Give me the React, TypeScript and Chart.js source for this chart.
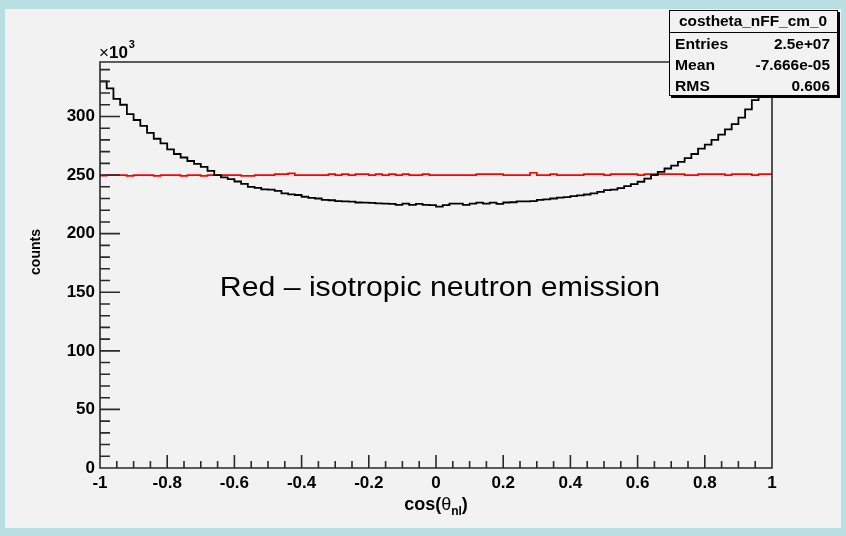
import React, { useEffect, useRef } from "react";
import { Chart, registerables } from "chart.js";

Chart.register(...registerables);

// ---- data (counts in units of 10^3), 100 bins from -1 to 1 ----
const xRange: number[] = [-1, 1];
const blackCounts: number[] = [
  330, 324, 315, 310, 302, 297, 292, 286, 281, 277,
  272, 268, 265, 262, 259.5, 257, 253.5, 250, 248, 246.5,
  244.5, 242.5, 240, 239, 237.8, 237.5, 236.5, 234.3, 233.5, 233,
  231.5, 230.5, 230, 228.8, 228.5, 227.8, 227.6, 227.3, 226.6, 226.5,
  226.2, 225.8, 225.6, 225.4, 224.6, 225.6, 224.6, 225.4, 224.5, 224.4,
  223, 224.3, 225.6, 225.6, 224.6, 225.6, 226.4, 225.6, 226.4, 225.5,
  226.6, 226.8, 227.5, 227.6, 227.8, 228.8, 229.2, 230, 230.8, 231.2,
  232, 232.6, 233.4, 234.3, 235.7, 237.1, 237.6, 238.8, 240.5, 242.3,
  244.3, 247, 250, 252.8, 255.6, 258, 261.3, 264.5, 268, 272.5,
  276, 280, 284.5, 289, 293.5, 299, 306, 314, 322, 330,
];
const redCounts: number[] = [
  249.6, 250, 250, 250, 249.3, 250, 250, 250, 249.3, 250,
  250, 250, 249.3, 250, 250, 249.3, 250, 250, 250, 250,
  250, 249.3, 249.3, 250, 250, 250, 250.8, 250.8, 251.5, 250,
  250, 250, 250, 250, 250.8, 250, 250.8, 250, 250.8, 250.8,
  250, 250.8, 250, 250.8, 250, 250.8, 250, 250, 250.8, 250,
  250, 250, 250, 250, 250, 250, 250.8, 250.8, 250.8, 250.8,
  250, 250, 250, 250, 252, 250, 250, 250.8, 250, 250,
  250, 250, 250.8, 250.8, 250.8, 250, 250.8, 250.8, 250.8, 250.8,
  250, 250.8, 250.8, 250.8, 250.8, 250.8, 250.8, 250, 250, 250.8,
  250.8, 250.8, 250.8, 250, 250.8, 250.8, 250.8, 250, 250.8, 250.8,
];

const xTickValues: number[] = [-1, -0.8, -0.6, -0.4, -0.2, 0, 0.2, 0.4, 0.6, 0.8, 1];
const xTickLabels: string[] = ["-1", "-0.8", "-0.6", "-0.4", "-0.2", "0", "0.2", "0.4", "0.6", "0.8", "1"];
const yTickValues: number[] = [0, 50, 100, 150, 200, 250, 300];
const yTickLabels: string[] = ["0", "50", "100", "150", "200", "250", "300"];
const yMax = 346.5;
const xMinorStep = 0.05;
const yMinorStep = 10;

const statsTitle = "costheta_nFF_cm_0";
const statsNames: string[] = ["Entries", "Mean", "RMS"];
const statsValues: string[] = ["2.5e+07", "-7.666e-05", "0.606"];
const annotation = "Red \u2013 isotropic neutron emission";
const yTitle = "counts";

const FONT = "'Liberation Sans', Arial, Helvetica, sans-serif";

function histPoints(vals: number[]) {
  const n = vals.length;
  const w = (xRange[1] - xRange[0]) / n;
  const pts = vals.map((v, i) => ({ x: xRange[0] + i * w, y: v }));
  pts.push({ x: xRange[1], y: vals[n - 1] });
  return pts;
}

function stretchText(
  ctx: CanvasRenderingContext2D,
  text: string,
  x: number,
  y: number,
  font: string,
  align: CanvasTextAlign,
  sx: number
) {
  ctx.save();
  ctx.font = font;
  ctx.textAlign = align;
  ctx.textBaseline = "alphabetic";
  ctx.translate(x, y);
  ctx.scale(sx, 1);
  ctx.fillText(text, 0, 0);
  ctx.restore();
}

const rootPlugin = {
  id: "rootStyle",
  beforeDraw(chart: any) {
    const ctx = chart.ctx as CanvasRenderingContext2D;
    ctx.save();
    ctx.fillStyle = "#badfe3";
    ctx.fillRect(0, 0, chart.width, chart.height);
    ctx.fillStyle = "#f2f2f2";
    ctx.fillRect(5, 9, 836, 519);
    ctx.restore();
  },
  afterDatasetsDraw(chart: any) {
    const ctx = chart.ctx as CanvasRenderingContext2D;
    const xs = chart.scales.x;
    const ys = chart.scales.y;
    const { left, right, top, bottom } = chart.chartArea;
    ctx.save();
    ctx.strokeStyle = "#2a2a2a";
    ctx.lineWidth = 1.6;
    // frame
    ctx.beginPath();
    ctx.rect(left, top, right - left, bottom - top);
    ctx.stroke();
    // x ticks
    ctx.beginPath();
    const nx = Math.round((xRange[1] - xRange[0]) / xMinorStep);
    for (let i = 1; i < nx; i++) {
      const v = xRange[0] + i * xMinorStep;
      const px = xs.getPixelForValue(v);
      const major = i % 4 === 0;
      ctx.moveTo(px, bottom);
      ctx.lineTo(px, bottom - (major ? 13 : 7));
    }
    // y ticks
    for (let v = yMinorStep; v < yMax; v += yMinorStep) {
      const py = ys.getPixelForValue(v);
      const major = Math.round(v) % 50 === 0;
      ctx.moveTo(left, py);
      ctx.lineTo(left + (major ? 20 : 10), py);
    }
    ctx.stroke();
    ctx.restore();
  },
  afterDraw(chart: any) {
    const ctx = chart.ctx as CanvasRenderingContext2D;
    const { left, right } = chart.chartArea;
    ctx.save();
    ctx.fillStyle = "#000";

    // x10^3
    ctx.textAlign = "left";
    ctx.textBaseline = "alphabetic";
    ctx.font = `17px ${FONT}`;
    ctx.fillText("\u00d7", left - 1, 58);
    const wx = ctx.measureText("\u00d7").width;
    ctx.font = `bold 17px ${FONT}`;
    ctx.fillText("10", left - 1 + wx, 58);
    const w10 = ctx.measureText("10").width;
    ctx.font = `bold 11px ${FONT}`;
    ctx.fillText("3", left - 1 + wx + w10 + 1, 48);

    // y title
    ctx.save();
    ctx.translate(40, 252);
    ctx.rotate(-Math.PI / 2);
    ctx.font = `bold 14px ${FONT}`;
    ctx.textAlign = "center";
    ctx.fillText(yTitle, 0, 0);
    ctx.restore();

    // x title: cos(θ_nl)
    const cx = (left + right) / 2;
    const base = 510;
    const parts = [
      { t: "cos(", f: `bold 18px ${FONT}`, dy: 0 },
      { t: "\u03b8", f: `18px ${FONT}`, dy: 0 },
      { t: "nl", f: `bold 12px ${FONT}`, dy: 5 },
      { t: ")", f: `bold 18px ${FONT}`, dy: 0 },
    ];
    let total = 0;
    for (const p of parts) {
      ctx.font = p.f;
      total += ctx.measureText(p.t).width;
    }
    let px = cx - total / 2;
    ctx.textAlign = "left";
    for (const p of parts) {
      ctx.font = p.f;
      ctx.fillText(p.t, px, base + p.dy);
      px += ctx.measureText(p.t).width;
    }

    // annotation
    stretchText(ctx, annotation, 440, 296, `27px ${FONT}`, "center", 1.12);

    // stats box
    const bx = 669, by = 10, bw = 168, bh = 85;
    ctx.fillStyle = "#000";
    ctx.fillRect(bx + 2, by + 2, bw + 1, bh + 1);
    ctx.fillStyle = "#f2f2f2";
    ctx.fillRect(bx, by, bw, bh);
    ctx.strokeStyle = "#000";
    ctx.lineWidth = 1;
    ctx.strokeRect(bx + 0.5, by + 0.5, bw, bh);
    ctx.beginPath();
    ctx.moveTo(bx, 32.5);
    ctx.lineTo(bx + bw, 32.5);
    ctx.stroke();
    ctx.fillStyle = "#000";
    stretchText(ctx, statsTitle, bx + bw / 2, 26, `bold 14px ${FONT}`, "center", 1.1);
    const rows = [49, 70, 91];
    statsNames.forEach((n, i) => {
      stretchText(ctx, n, bx + 6, rows[i], `bold 14px ${FONT}`, "left", 1.12);
      stretchText(ctx, statsValues[i], bx + bw - 7, rows[i], `bold 14px ${FONT}`, "right", 1.1);
    });
    ctx.restore();
  },
};

export default function App() {
  const ref = useRef<HTMLCanvasElement | null>(null);
  useEffect(() => {
    if (!ref.current) return;
    const chart = new Chart(ref.current, {
      type: "line",
      data: {
        datasets: [
          {
            label: "costheta_nFF_cm_0",
            data: histPoints(blackCounts),
            borderColor: "#000000",
            borderWidth: 1.8,
            pointRadius: 0,
            stepped: "before",
            fill: false,
          },
          {
            label: "isotropic",
            data: histPoints(redCounts),
            borderColor: "#ff0000",
            borderWidth: 1.7,
            pointRadius: 0,
            stepped: "before",
            fill: false,
          },
        ],
      },
      options: {
        animation: false,
        responsive: false,
        devicePixelRatio: 1,
        events: [],
        layout: { padding: { left: 0, top: 62, right: 74, bottom: 0 } },
        plugins: { legend: { display: false }, tooltip: { enabled: false } },
        scales: {
          x: {
            type: "linear",
            min: xRange[0],
            max: xRange[1],
            grid: { display: false, drawTicks: false },
            border: { display: false },
            afterBuildTicks: (s: any) => {
              s.ticks = xTickValues.map((v) => ({ value: v }));
            },
            afterFit: (s: any) => {
              s.height = 68;
            },
            ticks: {
              autoSkip: false,
              maxRotation: 0,
              padding: 5,
              color: "#000",
              font: { family: FONT, size: 17, weight: "bold" },
              callback: (v: any) => {
                const i = xTickValues.findIndex((t) => Math.abs(t - Number(v)) < 1e-9);
                return i >= 0 ? xTickLabels[i] : "";
              },
            },
          },
          y: {
            type: "linear",
            min: 0,
            max: yMax,
            grid: { display: false, drawTicks: false },
            border: { display: false },
            afterBuildTicks: (s: any) => {
              s.ticks = yTickValues.map((v) => ({ value: v }));
            },
            afterFit: (s: any) => {
              s.width = 100;
            },
            ticks: {
              padding: 5,
              color: "#000",
              font: { family: FONT, size: 17, weight: "bold" },
              callback: (v: any) => {
                const i = yTickValues.findIndex((t) => Math.abs(t - Number(v)) < 1e-9);
                return i >= 0 ? yTickLabels[i] : "";
              },
            },
          },
        },
      } as any,
      plugins: [rootPlugin],
    });
    return () => chart.destroy();
  }, []);
  return (
    <div style={{ position: "absolute", left: 0, top: 0, width: 846, height: 536 }}>
      <canvas ref={ref} width={846} height={536} style={{ display: "block" }} />
    </div>
  );
}
